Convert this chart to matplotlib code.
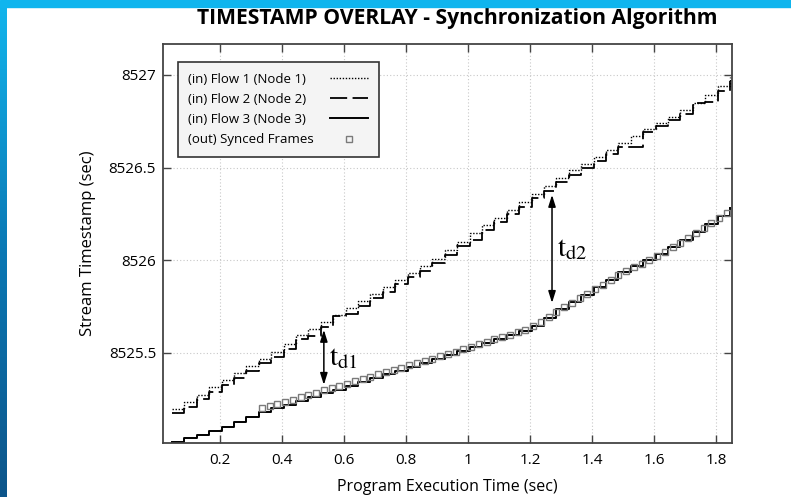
import numpy as np
import matplotlib.pyplot as plt
from matplotlib.colors import LinearSegmentedColormap
from matplotlib.patches import Rectangle

plt.rcParams['font.family'] = ['Open Sans', 'DejaVu Sans']
plt.rcParams['mathtext.fontset'] = 'stix'

# input sample times (sec) shared by the three flows
t_in = [0.045, 0.085, 0.125, 0.165, 0.205, 0.245, 0.285, 0.325, 0.365, 0.405,
        0.445, 0.485, 0.525, 0.565, 0.605, 0.645, 0.685, 0.725, 0.765, 0.805,
        0.845, 0.885, 0.925, 0.965, 1.005, 1.045, 1.085, 1.125, 1.165, 1.205,
        1.245, 1.285, 1.325, 1.365, 1.405, 1.445, 1.485, 1.525, 1.565, 1.605,
        1.645, 1.685, 1.725, 1.765, 1.805, 1.845]

flow1 = [8525.200, 8525.238, 8525.276, 8525.314, 8525.352, 8525.390, 8525.429,
         8525.467, 8525.505, 8525.550, 8525.595, 8525.632, 8525.668, 8525.705,
         8525.741, 8525.779, 8525.817, 8525.855, 8525.893, 8525.931, 8525.969,
         8526.009, 8526.055, 8526.100, 8526.145, 8526.188, 8526.230, 8526.273,
         8526.315, 8526.358, 8526.400, 8526.443, 8526.485, 8526.522, 8526.560,
         8526.597, 8526.635, 8526.672, 8526.708, 8526.741, 8526.774, 8526.812,
         8526.850, 8526.890, 8526.940, 8526.990]

flow2 = [8525.175, 8525.210, 8525.250, 8525.290, 8525.325, 8525.365, 8525.405,
         8525.445, 8525.480, 8525.520, 8525.575, 8525.590, 8525.640, 8525.700,
         8525.708, 8525.755, 8525.795, 8525.830, 8525.870, 8525.910, 8525.945,
         8525.985, 8526.030, 8526.075, 8526.110, 8526.165, 8526.205, 8526.250,
         8526.290, 8526.335, 8526.375, 8526.420, 8526.460, 8526.500, 8526.535,
         8526.575, 8526.610, 8526.612, 8526.690, 8526.725, 8526.755, 8526.790,
         8526.850, 8526.852, 8526.915, 8526.965]

flow3 = [8525.020, 8525.040, 8525.060, 8525.079, 8525.099, 8525.125, 8525.152,
         8525.181, 8525.203, 8525.222, 8525.242, 8525.262, 8525.282, 8525.302,
         8525.323, 8525.343, 8525.364, 8525.384, 8525.405, 8525.426, 8525.446,
         8525.467, 8525.488, 8525.509, 8525.530, 8525.552, 8525.575, 8525.598,
         8525.620, 8525.645, 8525.690, 8525.735, 8525.775, 8525.815, 8525.855,
         8525.895, 8525.935, 8525.970, 8526.000, 8526.035, 8526.070, 8526.112,
         8526.155, 8526.198, 8526.240, 8526.283]

# synced output frames
t_out = [0.335, 0.360, 0.385, 0.410, 0.435, 0.460, 0.485, 0.510, 0.535, 0.560,
         0.585, 0.610, 0.635, 0.660, 0.685, 0.710, 0.735, 0.760, 0.785, 0.810,
         0.835, 0.860, 0.885, 0.910, 0.935, 0.960, 0.985, 1.010, 1.035, 1.060,
         1.085, 1.110, 1.135, 1.160, 1.185, 1.210, 1.235, 1.260, 1.285, 1.310,
         1.335, 1.360, 1.385, 1.410, 1.435, 1.460, 1.485, 1.510, 1.535, 1.560,
         1.585, 1.610, 1.635, 1.660, 1.685, 1.710, 1.735, 1.760, 1.785, 1.810,
         1.835]
synced = [8525.202, 8525.212, 8525.225, 8525.237, 8525.249, 8525.261, 8525.273,
          8525.286, 8525.298, 8525.310, 8525.323, 8525.335, 8525.347, 8525.360,
          8525.372, 8525.384, 8525.396, 8525.408, 8525.421, 8525.433, 8525.446,
          8525.458, 8525.470, 8525.483, 8525.495, 8525.508, 8525.521, 8525.534,
          8525.547, 8525.560, 8525.573, 8525.586, 8525.599, 8525.612, 8525.626,
          8525.645, 8525.669, 8525.695, 8525.722, 8525.747, 8525.771, 8525.796,
          8525.820, 8525.845, 8525.869, 8525.894, 8525.919, 8525.941, 8525.962,
          8525.980, 8526.002, 8526.023, 8526.045, 8526.070, 8526.096, 8526.123,
          8526.150, 8526.177, 8526.203, 8526.230, 8526.256]

# delay markers: x, bottom, top, label
td1 = (0.535, 8525.328, 8525.625, r'$\mathrm{t}_{\mathrm{d1}}$')
td2 = (1.271, 8525.770, 8526.353, r'$\mathrm{t}_{\mathrm{d2}}$')

xticks = [0.2, 0.4, 0.6, 0.8, 1.0, 1.2, 1.4, 1.6, 1.8]
xticklabels = ['0.2', '0.4', '0.6', '0.8', '1', '1.2', '1.4', '1.6', '1.8']
yticks = [8525.5, 8526, 8526.5, 8527]
yticklabels = ['8525.5', '8526', '8526.5', '8527']

fig = plt.figure(figsize=(7.91, 4.97), dpi=100)
ax = fig.add_axes([163/791, 1 - 443/497, 569/791, 399/497])

ax.plot(t_in, flow1, color='black', lw=1.0, ls=(0, (1, 1.2)), drawstyle='steps-post',
        label='(in) Flow 1 (Node 1)')
ax.plot(t_in, flow2, color='black', lw=1.3, ls=(0, (9.5, 3)), drawstyle='steps-post',
        label='(in) Flow 2 (Node 2)')
ax.plot(t_in, flow3, color='black', lw=1.4, drawstyle='steps-post',
        label='(in) Flow 3 (Node 3)')
ax.plot(t_out, synced, ls='none', marker='s', ms=5, mfc='none', mec='#7a7a7a', mew=1.0,
        label='(out) Synced Frames')

for x, lo, hi, lab in (td1, td2):
    ax.annotate('', xy=(x, hi), xytext=(x, lo),
                arrowprops=dict(arrowstyle='<|-|>,head_length=0.7,head_width=0.22',
                                color='black', lw=1.1, shrinkA=0, shrinkB=0))
    ax.text(x + 0.016, (lo + hi) / 2, lab, fontsize=21, va='center', ha='left')

ax.set_xlim(0.0161, 1.8516)
ax.set_ylim(8525.0144, 8527.167)
ax.set_xticks(xticks)
ax.set_xticklabels(xticklabels, fontsize=11)
ax.set_yticks(yticks)
ax.set_yticklabels(yticklabels, fontsize=11)
ax.tick_params(direction='in', length=6, width=1, color='#444444', top=True, right=True)
ax.tick_params(axis='x', pad=7)
ax.tick_params(axis='y', pad=5)
ax.grid(True, color='#c8c8c8', ls=(0, (1, 2)), lw=0.8)
for s in ax.spines.values():
    s.set_color('#444444')
    s.set_linewidth(1.3)

ax.set_xlabel('Program Execution Time (sec)', fontsize=11.5, labelpad=8)
ax.set_ylabel('Stream Timestamp (sec)', fontsize=12, labelpad=9)

leg = ax.legend(loc='upper left', bbox_to_anchor=(0.026, 0.955), borderaxespad=0,
                markerfirst=False, fontsize=9.5, handlelength=2.9, fancybox=False,
                framealpha=1, labelspacing=0.55, borderpad=0.8, handletextpad=1.2)
leg.get_frame().set_facecolor('#f4f4f4')
leg.get_frame().set_edgecolor('#333333')
leg.get_frame().set_linewidth(1.2)
# labels left, handles right: stretch every row to the same width
for col in leg._legend_handle_box.get_children():
    for row in col.get_children():
        row.mode = 'expand'
        row.width = 180

fig.text(457/791, 1 - 24/497, 'TIMESTAMP OVERLAY - Synchronization Algorithm',
         fontsize=15.2, fontweight='bold', ha='center', va='baseline')

# blue frame of the slide on the top and left edges
fig.patches.append(Rectangle((0, 1 - 7/497), 1, 7/497, transform=fig.transFigure,
                             color='#0fb5ee', zorder=10))
bar = fig.add_axes([0, 0, 7/791, 1 - 7/497])
cmap = LinearSegmentedColormap.from_list('edge', ['#12b4ec', '#0a78b4', '#0d558a'])
bar.imshow(np.linspace(0, 1, 256).reshape(-1, 1), aspect='auto', cmap=cmap)
bar.axis('off')

fig.savefig('out.png', dpi=100)
